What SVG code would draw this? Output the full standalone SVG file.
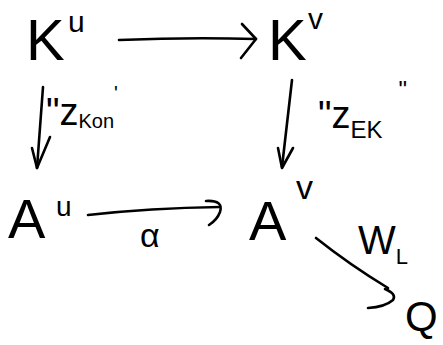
<svg xmlns="http://www.w3.org/2000/svg" width="443" height="345" viewBox="0 0 443 345">
<style>
.t{font-family:"Liberation Sans","DejaVu Sans",sans-serif;fill:#000}
.c{fill:none;stroke:#000;stroke-width:2.6;stroke-linecap:round;stroke-linejoin:round}
</style>
<rect width="443" height="345" fill="#fff"/>
<g id="Ku"><text class="t" x="26" y="60" font-size="58">K</text><text class="t" x="68" y="32" font-size="30">u</text></g>
<g id="Kv"><text class="t" x="268" y="60" font-size="58">K</text><text class="t" x="308" y="29" font-size="30">v</text></g>
<g id="Au"><text class="t" x="8" y="238" font-size="56">A</text><text class="t" x="56" y="216" font-size="28">u</text></g>
<g id="Av"><text class="t" x="249" y="240" font-size="56">A</text><text class="t" x="296" y="199" font-size="34">v</text></g>
<g id="Q"><text class="t" x="405" y="331" font-size="42">Q</text></g>
<g id="connectors">
<path class="c" d="M119,40 Q190,37 256,39"/>
<path class="c" d="M242,24 L256,39 L241,58"/>
<path class="c" d="M43,87 L37,168"/>
<path class="c" d="M32,148 L37,168 L50,137"/>
<path class="c" d="M292,80 L282,167"/>
<path class="c" d="M278,148 L282,168 L293,148"/>
<path class="c" d="M88,215 Q150,208 220,207"/>
<path class="c" d="M206,201 Q224,200 220,212 Q217,220 209,225"/>
<path class="c" d="M316,238 Q350,265 388,288"/>
<path class="c" d="M385,289 Q397,294 393,300 Q385,307 368,308"/>
</g>
<g id="labels">
<text class="t" x="46" y="125" font-size="38">"z<tspan font-size="20" dy="3">Kon</tspan><tspan font-size="20" dy="-28">'</tspan></text>
<text class="t" x="140" y="247" font-size="34">α</text>
<text class="t" x="318" y="128" font-size="38">"z<tspan font-size="24" dy="10">EK</tspan><tspan font-size="24" dy="-40" dx="16">"</tspan></text>
<text class="t" x="358" y="254" font-size="40">W<tspan font-size="22" dy="10">L</tspan></text>
</g>
</svg>
